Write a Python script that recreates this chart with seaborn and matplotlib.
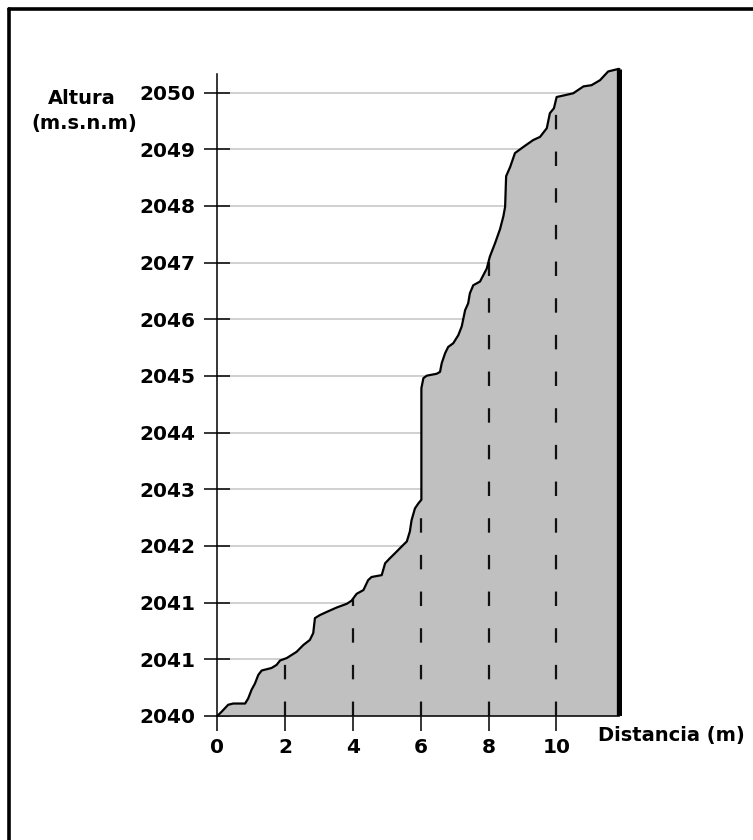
import numpy as np
import seaborn as sns
import matplotlib.pyplot as plt
from matplotlib.lines import Line2D

# Perfil del terreno: distancia (m) y altura (m.s.n.m)
distancia = [0.00, 0.13, 0.32, 0.47, 0.82, 0.91, 1.01, 1.11, 1.21, 1.31,
             1.60, 1.75, 1.85, 2.05, 2.34, 2.54, 2.73, 2.83, 2.88, 3.03,
             3.23, 3.52, 3.82, 3.96, 4.11, 4.31, 4.45, 4.55, 4.85, 4.95,
             5.09, 5.24, 5.44, 5.59, 5.68, 5.73, 5.83, 5.93, 6.02, 6.02,
             6.02, 6.08, 6.18, 6.47, 6.57, 6.62, 6.72, 6.81, 6.96, 7.11,
             7.21, 7.26, 7.31, 7.40, 7.45, 7.55, 7.75, 7.95, 8.04, 8.19,
             8.34, 8.44, 8.49, 8.52, 8.64, 8.78, 9.03, 9.32, 9.52, 9.72,
             9.81, 9.93, 10.01, 10.26, 10.50, 10.80, 11.04, 11.29, 11.53, 11.68,
             11.83, 11.86]
altura = [2040.00, 2040.07, 2040.18, 2040.20, 2040.20, 2040.28, 2040.42, 2040.52, 2040.66, 2040.73,
          2040.77, 2040.82, 2040.89, 2040.93, 2041.03, 2041.14, 2041.22, 2041.33, 2041.57, 2041.62,
          2041.67, 2041.74, 2041.80, 2041.85, 2041.96, 2042.02, 2042.18, 2042.23, 2042.26, 2042.45,
          2042.53, 2042.61, 2042.72, 2042.80, 2042.96, 2043.14, 2043.33, 2043.41, 2043.47, 2044.10,
          2045.26, 2045.42, 2045.46, 2045.49, 2045.52, 2045.66, 2045.82, 2045.92, 2045.98, 2046.11,
          2046.25, 2046.38, 2046.51, 2046.62, 2046.78, 2046.91, 2046.97, 2047.18, 2047.37, 2047.58,
          2047.81, 2048.02, 2048.17, 2048.66, 2048.81, 2049.03, 2049.13, 2049.24, 2049.29, 2049.43,
          2049.67, 2049.75, 2049.93, 2049.96, 2049.99, 2050.10, 2050.12, 2050.20, 2050.34, 2050.36,
          2050.38, 2050.38]

x_ticks = [0, 2, 4, 6, 8, 10]
y_ticks = np.linspace(2040, 2050, 12)
y_labels = ['2040', '2041', '2041', '2042', '2043', '2044',
            '2045', '2046', '2047', '2048', '2049', '2050']

sns.set_style("white")
plt.rcParams['font.family'] = ['DejaVu Sans']
plt.rcParams['font.weight'] = 'bold'

fig = plt.figure(figsize=(7.53, 8.4), dpi=100)
ax = fig.add_axes([217.3 / 753, 1 - 716 / 840, 0.538, 651.4 / 840])

x_end = distancia[-1]
# horizontal guide lines (hidden behind the fill)
ax.hlines(y_ticks, 0, x_end, color='#c8c8c8', lw=1.2, zorder=0.5)

ax.fill_between(distancia, 2040, altura, color='#c0c0c0', lw=0, zorder=1)
sns.lineplot(x=distancia, y=altura, sort=False, estimator=None,
             color='black', lw=1.6, ax=ax, zorder=3)

# dashed verticals up to the terrain
ax.vlines(x_ticks[1:], 2040, np.interp(x_ticks[1:], distancia, altura),
          colors='#111111', lw=1.6, linestyles=(0, (6.5, 10)), zorder=2)
# thick end line
ax.vlines(x_end, 2040, altura[-1], colors='black', lw=3.8, zorder=4)

ax.set_xlim(0, 11.95)
ax.set_ylim(2040, 2050.45)
for s in ['top', 'right']:
    ax.spines[s].set_visible(False)
ax.spines['left'].set_bounds(2040, 2050.3)
ax.spines['bottom'].set_bounds(0, x_end)
for s in ['left', 'bottom']:
    ax.spines[s].set_color('black')
    ax.spines[s].set_linewidth(1.1)

ax.set_xticks(x_ticks)
ax.set_xticklabels([str(v) for v in x_ticks], fontsize=14.5, fontweight='bold')
ax.set_yticks(y_ticks)
ax.set_yticklabels(y_labels, fontsize=14.5, fontweight='bold')
ax.tick_params(axis='y', left=True, direction='inout', length=19, width=1.1,
               pad=6.3, colors='black')
ax.tick_params(axis='x', bottom=True, direction='out', length=11, width=1.1,
               pad=5, colors='black')
ax.set_xlabel('')
ax.set_ylabel('')

fig.text(82 / 753, 1 - 98 / 840, 'Altura', ha='center', va='center',
         fontsize=14, fontweight='bold', color='black')
fig.text(84 / 753, 1 - 124 / 840, '(m.s.n.m)', ha='center', va='center',
         fontsize=14, fontweight='bold', color='black')
fig.text(598 / 753, 1 - 735 / 840, 'Distancia (m)', ha='left', va='center',
         fontsize=14, fontweight='bold', color='black')

# window frame (left and top edges)
fig.add_artist(Line2D([8.5 / 753, 8.5 / 753], [0, 1 - 8.5 / 840],
                      transform=fig.transFigure, color='black', lw=2.6))
fig.add_artist(Line2D([8.5 / 753, 1], [1 - 8.5 / 840, 1 - 8.5 / 840],
                      transform=fig.transFigure, color='black', lw=2.6))

fig.savefig('out.png', dpi=100)
